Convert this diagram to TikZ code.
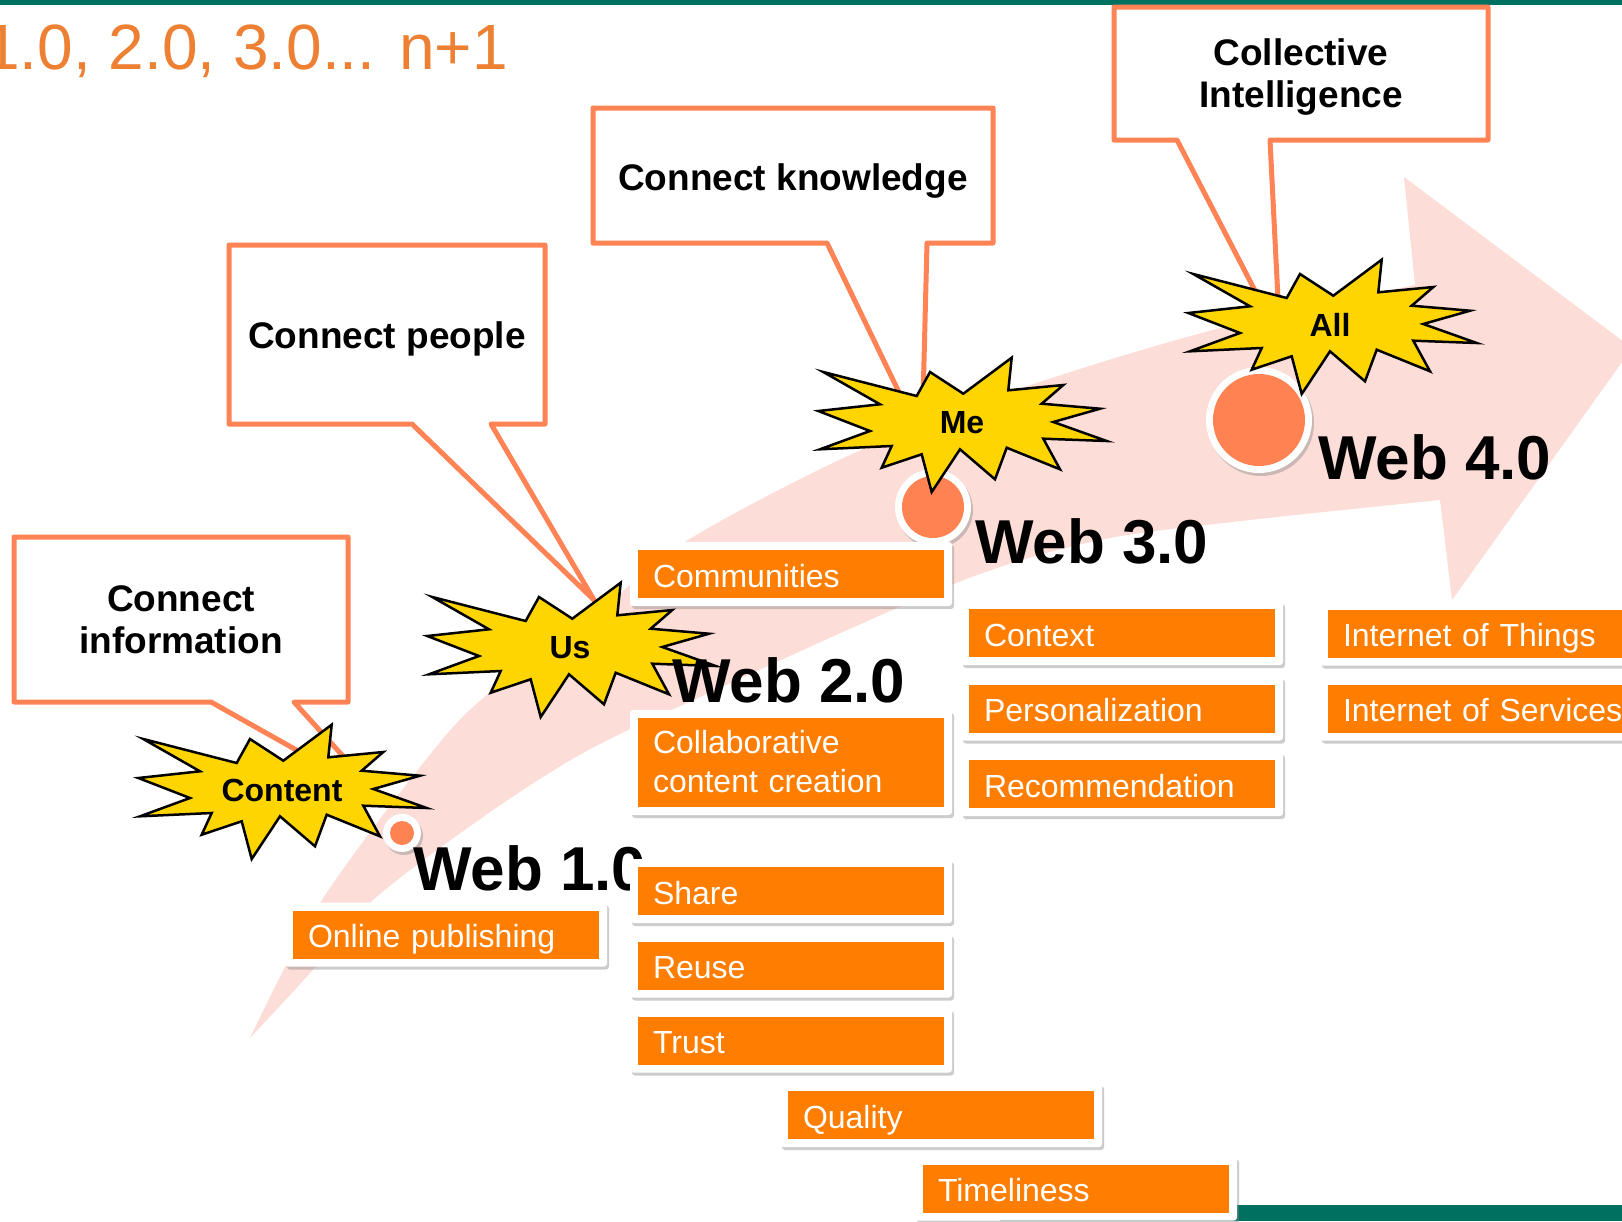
\documentclass[tikz,border=0pt]{standalone}
\usepackage{fontspec}
\setmainfont{Liberation Sans}
\usetikzlibrary{shadows}

\definecolor{webgreen}{RGB}{0,112,96}
\definecolor{headorange}{RGB}{238,128,52}
\definecolor{calloutorange}{RGB}{255,131,84}
\definecolor{dotorange}{RGB}{255,130,82}
\definecolor{boxorange}{RGB}{255,125,0}
\definecolor{arrowpink}{RGB}{253,221,215}
\definecolor{burstyellow}{RGB}{255,213,0}

\newcommand\slidetitlefont{\fontsize{64}{77}\selectfont}
\newcommand\callfont{\bfseries\fontsize{37}{42}\selectfont}
\newcommand\burstfont{\bfseries\fontsize{32}{38}\selectfont}
\newcommand\webfont{\bfseries\fontsize{62}{74}\selectfont}
\newcommand\itemfont{\fontsize{32}{39}\selectfont}

\tikzset{
  calloutline/.style={fill=white,draw=calloutorange,line width=5pt,line join=round},
  callouttext/.style={font=\callfont,align=center,inner sep=0pt},
  burstline/.style={fill=burstyellow,draw=black,line width=2.5pt},
  burstlabel/.style={font=\burstfont,inner sep=0pt},
  weblabel/.style={font=\webfont,anchor=base west,inner sep=0pt},
  milestone/.style={circle,fill=white,inner sep=0pt,minimum size=#1,
    drop shadow={shadow xshift=2pt,shadow yshift=-3pt,fill=black!50,opacity=0.4},
    path picture={\fill[dotorange] (path picture bounding box.center) circle (#1/2-7pt);}},
  itembox/.style={fill=white,rounded corners=3pt,minimum width=322pt,minimum height=64pt,
    inner xsep=23pt,inner ysep=0pt,text width=276pt,align=left,text=white,font=\itemfont,
    text height=28pt,text depth=2pt,
    drop shadow={shadow xshift=2pt,shadow yshift=-3pt,fill=black!50,opacity=0.4},
    path picture={\fill[boxorange,sharp corners] ([xshift=8pt,yshift=-8pt]path picture bounding box.north west)
      rectangle ([xshift=-8pt,yshift=8pt]path picture bounding box.south east);}},
  burst/.pic={
    \filldraw[burstline] (-136.7,-54) -- (-43.3,-30) -- (-30,-54) -- (3.3,-32.3) -- (51.7,-68.3)
      -- (48.3,-35.7) -- (103.3,-41) -- (81.7,-22.3) -- (140,-17.3) -- (93.3,-4) -- (146.7,15)
      -- (83.3,12.7) -- (100,43.3) -- (46.7,21.7) -- (35,53.3) -- (0,23.3) -- (-28.3,66)
      -- (-38.3,28.3) -- (-78.3,41.7) -- (-68.3,20) -- (-140,23.3) -- (-90,5) -- (-141.7,-15)
      -- (-80,-21.7) -- cycle;
  }
}

\begin{document}
\begin{tikzpicture}[x=1pt,y=-1pt]
\useasboundingbox (0,0) rectangle (1622,1221);
\fill[white] (0,0) rectangle (1622,1221);
\fill[webgreen] (0,0) rectangle (1622,4.6);
\fill[webgreen] (1000,1205) rectangle (1622,1221);

\fill[arrowpink] plot[smooth,tension=0.5] coordinates {(250,1038) (322,900) (432,752) (489,693)
	(600,610) (688,540) (850,455) (1025,387) (1213,330) (1415,285)}
	-- (1404,177) -- (1632,348) -- (1452,600) -- (1440,500)
	-- plot[smooth,tension=0.5] coordinates {(1440,500) (1250,520) (1100,540) (956,583)
	(700,697) (583,753) (483,817) (373,900) (310,973) (250,1038)} -- cycle;

\node[text=headorange,font=\slidetitlefont,anchor=base east,inner sep=0pt] (title) at (508,69) {1.0, 2.0, 3.0... n+1};

\filldraw[calloutline] (14,537) -- (348,537) -- (348,702) -- (294,702) -- (380,797) -- (211,702) -- (14,702) -- cycle;
\node[callouttext] (cinfo) at (181,620) {Connect\\information};
\filldraw[calloutline] (229,245) -- (545,245) -- (545,424) -- (491,424) -- (594,600) -- (412,424) -- (229,424) -- cycle;
\node[callouttext,anchor=base] (cpeople) at (387,348) {Connect people};
\filldraw[calloutline] (593,108) -- (993,108) -- (993,243) -- (927,243) -- (922,440) -- (827,243) -- (593,243) -- cycle;
\node[callouttext,anchor=base] (cknow) at (793,190) {Connect knowledge};
\filldraw[calloutline] (1114,7) -- (1488,7) -- (1488,140) -- (1270,140) -- (1280,339) -- (1177,140) -- (1114,140) -- cycle;
\node[callouttext] (ccoll) at (1301,77) {Collective\\Intelligence};

\node[milestone=38pt] (dot1) at (402,833) {};
\node[milestone=76pt] (dot3) at (933,507) {};
\node[milestone=106pt] (dot4) at (1259,420) {};

\pic at (280,793) {burst};
\node[burstlabel] (content) at (282,790) {Content};
\pic at (569,651) {burst};
\node[burstlabel] (us) at (570,648) {Us};
\pic at (960,426) {burst};
\node[burstlabel] (me) at (962,423) {Me};
\pic at (1330,328) {burst};
\node[burstlabel] (all) at (1330,325) {All};

\node[weblabel] (web1) at (413,890) {Web 1.0};
\node[weblabel] (web2) at (672,702) {Web 2.0};
\node[weblabel] (web3) at (975,563) {Web 3.0};
\node[weblabel] (web4) at (1318,479) {Web 4.0};

\node[itembox] (online) at (446,934.5) {Online publishing};
\node[itembox] (communities) at (791,574) {Communities};
\node[itembox,minimum height=105pt,text height=28pt,text depth=47pt] (collab) at (791,762.5) {Collaborative\\content creation};
\node[itembox] (share) at (791,891) {Share};
\node[itembox] (reuse) at (791,965.5) {Reuse};
\node[itembox] (trust) at (791,1040.5) {Trust};
\node[itembox] (quality) at (941,1115) {Quality};
\node[itembox] (timeliness) at (1076,1188.5) {Timeliness};
\node[itembox] (context) at (1122,633) {Context};
\node[itembox] (personal) at (1122,708.5) {Personalization};
\node[itembox] (recommend) at (1122,784) {Recommendation};
\node[itembox] (things) at (1481,633.5) {\mbox{Internet of Things}};
\node[itembox] (services) at (1481,708.5) {\mbox{Internet of Services}};
\end{tikzpicture}
\end{document}
